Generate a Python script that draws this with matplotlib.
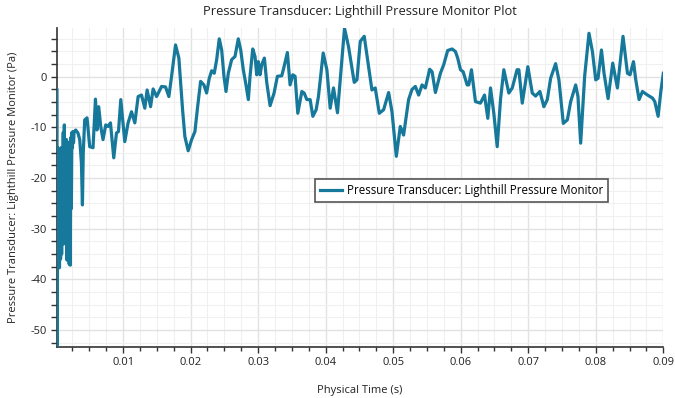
import numpy as np
import matplotlib
matplotlib.use("Agg")
import matplotlib.pyplot as plt
from matplotlib.ticker import MultipleLocator, FormatStrFormatter

# time in milliseconds (converted to seconds below), pressure in Pa
time_ms = [
    0.21, 0.25, 0.33, 0.42, 0.50, 0.58, 0.66, 0.74, 0.82, 0.90, 0.98, 1.06, 1.14, 1.22,
    1.30, 1.38, 1.46, 1.54, 1.62, 1.70, 1.78, 1.86, 1.94, 2.02, 2.10, 2.18, 2.26, 2.34,
    2.42, 2.50, 2.58, 2.66, 2.74,
    2.98, 3.32, 3.58, 3.83, 3.98, 4.10, 4.32, 4.66, 5.06, 5.55, 5.91, 6.14, 6.39, 6.69,
    7.03, 7.43, 7.77, 8.13, 8.62, 9.02, 9.32, 9.66, 10.25, 10.74, 11.25, 11.74, 12.23,
    12.73, 13.22, 13.56, 14.07, 14.45, 14.96, 15.70, 16.29, 16.78, 17.18, 17.77, 18.26,
    18.81, 19.15, 19.64, 20.15, 20.64, 21.04, 21.48, 21.97, 22.37, 22.76, 23.12, 23.50,
    23.86, 24.24, 24.60, 24.94, 25.24, 25.58, 26.08, 26.57, 27.06, 27.42, 27.80, 28.20,
    28.55, 28.80, 29.20, 29.54, 29.79, 30.03, 30.28, 30.53, 30.92, 31.28, 31.77, 32.36,
    32.85, 33.50, 33.84, 34.33, 34.73, 35.13, 35.47, 35.87, 36.47, 36.81, 37.21, 37.70,
    38.10, 38.59, 38.93, 39.63, 40.18, 40.67, 41.16, 41.75, 42.79, 43.38, 44.23, 44.63,
    45.12, 45.71, 46.20, 46.85, 47.34, 47.94, 48.58, 49.32, 49.82, 50.46, 51.05, 51.54,
    52.28, 52.78, 53.28, 53.77, 54.27, 54.76, 55.40, 55.76, 56.25, 56.99, 57.48, 58.07,
    58.72, 59.21, 59.55, 59.96, 60.36, 60.95, 61.19, 61.59, 62.18, 62.92, 63.52, 64.01,
    64.41, 64.90, 65.40, 65.89, 66.38, 67.12, 67.63, 68.34, 68.61, 69.11, 69.94, 70.59,
    71.08, 71.72, 72.31, 72.82, 73.31, 74.05, 74.54, 75.19, 75.79, 76.28, 77.02, 77.36,
    77.76, 78.35, 78.99, 79.50, 79.99, 80.33, 80.84, 81.22, 81.82, 82.51, 83.20, 84.03,
    84.69, 85.07, 85.58, 85.92, 86.41, 86.91, 87.66, 88.40, 88.74, 89.23, 89.63, 90.00,
]
pressure = [
    -2.6, -53.3, -14.0, -37.5, -14.5, -37.7, -20.0, -36.0, -14.0, -35.0, -18.0, -29.6, -11.0, -33.0,
    -9.5, -32.5, -13.0, -30.0, -12.4, -36.2, -14.0, -33.0, -13.0, -37.0, -13.0, -37.2, -12.0, -26.0,
    -11.0, -14.0, -10.8, -13.0, -11.0,
    -10.5, -11.1, -12.4, -17.0, -25.3, -15.0, -8.5, -8.1, -13.8, -14.0, -4.4, -10.5, -5.9, -9.8,
    -12.4, -9.5, -9.8, -9.1, -16.0, -11.1, -10.8, -4.5, -12.8, -9.1, -6.9, -9.1, -3.9,
    -3.6, -6.2, -2.6, -5.9, -2.4, -3.9, -1.9, -2.0, -3.9, 0.1, 6.3, 3.7,
    -6.5, -11.8, -14.6, -12.4, -10.8, -5.9, -0.9, -1.6, -3.2, -0.3, 1.2, 0.7,
    3.4, 7.5, 5.3, 0.1, -2.9, 0.7, 3.4, 4.0, 7.5, 5.3, 1.4, -1.6,
    -4.5, 0.1, 5.5, 4.0, 0.4, 3.0, 0.4, 2.4, 3.7, -1.2, -5.7, -3.2,
    0.1, 0.2, 2.0, 4.8, -1.6, 0.4, 0.1, -7.2, -2.9, -3.2, -4.5, -4.5,
    -7.8, -6.5, -3.9, 4.7, 1.4, -6.2, -2.2, -7.1, 9.6, 6.0, -1.1, -0.6,
    7.0, 8.0, 3.4, -2.6, -2.2, -7.2, -6.5, -3.1, -6.9, -15.7, -9.8, -11.5,
    -4.5, -2.5, -1.9, -3.6, -1.6, -2.2, 1.5, 1.0, -3.1, 0.7, 2.4, 5.2,
    5.5, 5.0, 3.7, 1.4, 1.0, -1.6, -1.6, 1.4, -4.9, -5.2, -3.6, -8.2,
    -2.2, -7.2, -13.8, -4.5, 1.4, -3.2, -2.2, 1.4, 1.4, -5.2, 2.0, -3.2,
    -3.8, -2.9, -5.9, -4.5, -0.3, 2.6, -0.6, -9.2, -8.5, -4.9, -1.6, -3.9,
    -13.1, 0.1, 8.6, 5.0, -0.6, -0.3, 5.3, 0.7, -4.3, 2.7, -2.2, 8.0,
    0.7, 0.4, 3.0, -0.6, -4.5, -2.9, -3.6, -4.2, -4.9, -7.8, -2.9, 0.7,
]
series_label = "Pressure Transducer: Lighthill Pressure Monitor"
title = "Pressure Transducer: Lighthill Pressure Monitor Plot"
xlabel = "Physical Time (s)"
ylabel = "Pressure Transducer: Lighthill Pressure Monitor (Pa)"

plt.rcParams['font.family'] = ['Open Sans', 'DejaVu Sans']

t = np.array(time_ms) / 1000.0
p = np.array(pressure)

fig = plt.figure(figsize=(6.75, 3.98), dpi=100)
ax = fig.add_axes([0.0844, 0.1289, 0.8983, 0.8015])

ax.plot(t, p, color='#16789a', lw=2.3, label=series_label, zorder=3)

ax.set_xlim(t.min(), 0.09)
ax.set_ylim(p.min(), p.max() + 0.1)

ax.xaxis.set_major_locator(MultipleLocator(0.01))
ax.xaxis.set_minor_locator(MultipleLocator(0.0025))
ax.yaxis.set_major_locator(MultipleLocator(10))
ax.yaxis.set_minor_locator(MultipleLocator(2.5))
ax.xaxis.set_major_formatter(FormatStrFormatter('%g'))
ax.yaxis.set_major_formatter(FormatStrFormatter('%g'))

ax.grid(True, which='major', color='#e2e2e2', lw=1.0, zorder=0)
ax.grid(True, which='minor', color='#f0f0f0', lw=0.8, zorder=0)
ax.set_axisbelow(True)

for s in ['top', 'right']:
    ax.spines[s].set_visible(False)
for s in ['left', 'bottom']:
    ax.spines[s].set_color('#333333')
    ax.spines[s].set_linewidth(1.2)

ax.tick_params(which='major', direction='out', length=4, width=1, labelsize=8, color='#333333', labelcolor='#222222')
ax.tick_params(which='minor', direction='out', length=3, width=1, color='#333333')
ax.tick_params(axis='y', which='both', length=4)

ax.set_title(title, fontsize=9.3, color='#222222', pad=9)
ax.set_xlabel(xlabel, fontsize=8, color='#222222', labelpad=12)
ax.set_ylabel(ylabel, fontsize=8, color='#222222', labelpad=8)

leg = ax.legend(loc='lower left', bbox_to_anchor=(0.4255, 0.4536), borderaxespad=0,
                fontsize=8.3, fancybox=False, framealpha=1, edgecolor='#555555',
                handlelength=1.9, handletextpad=0.4, borderpad=0.45)
leg.get_frame().set_linewidth(1.2)

fig.savefig('out.png', dpi=100)
